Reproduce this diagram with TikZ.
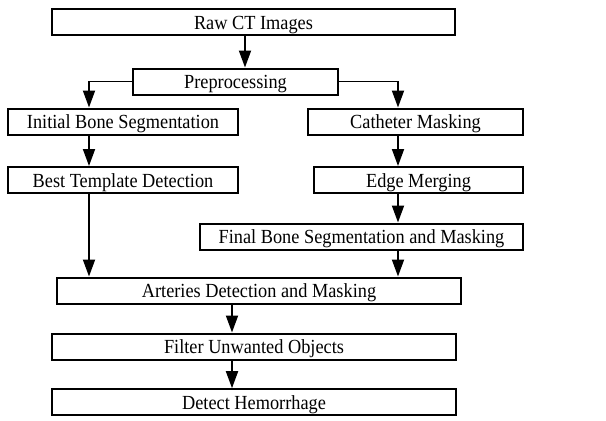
\documentclass[tikz,border=0pt]{standalone}
\usepackage{fontspec}
\setmainfont[FakeStretch=0.915]{Liberation Serif}
\usetikzlibrary{arrows.meta,positioning}

\begin{document}
\begin{tikzpicture}[x=0.5pt, y=-0.5pt, font=\fontsize{10}{12}\selectfont, stage/.style={rectangle, draw, line width=1pt, minimum height=13pt, inner sep=0pt, text height=7.4pt, text depth=0pt}, flow/.style={-{Triangle[length=8.5pt, width=6pt]}, line width=0.9pt}]
  \useasboundingbox (0,0) rectangle (606,420);
  % columns the arrows run along
  \coordinate (leftcol) at (89,0);
  \coordinate (rightcol) at (398,0);
  \coordinate (topcol) at (245,0);
  \coordinate (lowcol) at (232,0);

  \node[stage, minimum width=201.5pt] (raw) at (253.5,22.3) {Raw CT Images};
  \node[stage, minimum width=102.5pt] (pre) at (235.5,81.5) {Preprocessing};
  \node[stage, minimum width=115pt] (init) at (123,121.5) {Initial Bone Segmentation};
  \node[stage, minimum width=107.5pt] (cath) at (415.5,121.5) {Catheter Masking};
  \node[stage, minimum width=115pt] (best) at (123,180) {Best Template Detection};
  \node[stage, minimum width=104.5pt] (edge) at (418.5,180) {Edge Merging};
  \node[stage, minimum width=161.5pt] (final) at (361.5,236.5) {Final Bone Segmentation and Masking};
  \node[stage, minimum width=202pt] (art) at (259,290.5) {Arteries Detection and Masking};
  \node[stage, minimum width=202pt] (filt) at (254,346.5) {Filter Unwanted Objects};
  \node[stage, minimum width=202pt] (det) at (254,402.2) {Detect Hemorrhage};

  \draw[flow] (raw.south -| topcol) -- (pre.north -| topcol);
  \draw[flow] (pre.west) -| (init.north -| leftcol);
  \draw[flow] (pre.east) -| (cath.north -| rightcol);
  \draw[flow] (init.south -| leftcol) -- (best.north -| leftcol);
  \draw[flow] (cath.south -| rightcol) -- (edge.north -| rightcol);
  \draw[flow] (edge.south -| rightcol) -- (final.north -| rightcol);
  \draw[flow] (best.south -| leftcol) -- (art.north -| leftcol);
  \draw[flow] (final.south -| rightcol) -- (art.north -| rightcol);
  \draw[flow] (art.south -| lowcol) -- (filt.north -| lowcol);
  \draw[flow] (filt.south -| lowcol) -- (det.north -| lowcol);
\end{tikzpicture}
\end{document}
